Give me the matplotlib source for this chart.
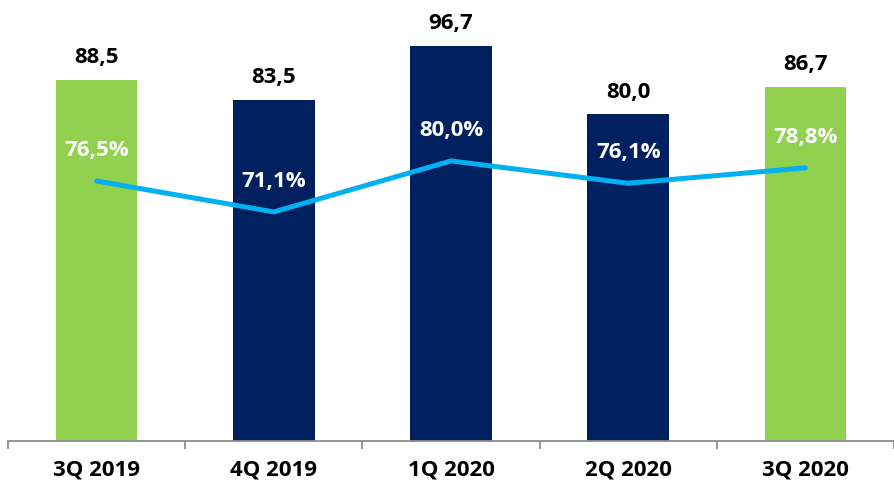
import matplotlib
matplotlib.use("Agg")
import matplotlib.pyplot as plt
import numpy as np

plt.rcParams["font.family"] = ["Open Sans", "DejaVu Sans"]

quarters = ["3Q 2019", "4Q 2019", "1Q 2020", "2Q 2020", "3Q 2020"]
volumes = [88.5, 83.5, 96.7, 80.0, 86.7]
shares = [76.5, 71.1, 80.0, 76.1, 78.8]
bar_colors = ["#92D050", "#002060", "#002060", "#002060", "#92D050"]

GREY = "#8c8c8c"
LINE = "#00B0F0"
FS = 16

fig = plt.figure(figsize=(8.94, 4.88), dpi=100)
ax = fig.add_axes([8 / 894, 47 / 488, 886 / 894, 441 / 488])
x = np.arange(len(quarters))

ax.bar(x, volumes, width=0.46, color=bar_colors, zorder=2)
ax.set_xlim(-0.5, len(quarters) - 0.5)
ax.set_ylim(0, 108)

for xi, v in zip(x, volumes):
    ax.annotate(f"{v:.1f}".replace(".", ","), (xi, v), xytext=(0, 16),
                textcoords="offset points", ha="center", va="center",
                fontsize=FS, fontweight="bold", color="black")

for side in ("top", "right", "left"):
    ax.spines[side].set_visible(False)
ax.spines["bottom"].set_color(GREY)
ax.spines["bottom"].set_linewidth(1.3)
ax.set_yticks([])
ax.set_xticks(x)
ax.set_xticklabels(quarters, fontsize=FS, fontweight="bold")
ax.tick_params(axis="x", which="major", length=0, pad=13)
ax.set_xticks(np.arange(-0.5, len(quarters)), minor=True)
ax.tick_params(axis="x", which="minor", length=6, width=1.3, color=GREY)

ax2 = ax.twinx()
ax2.set_ylim(31.1, 108.1)
ax2.plot(x, shares, color=LINE, lw=3.6, solid_capstyle="round", zorder=3)
for xi, s in zip(x, shares):
    ax2.annotate(f"{s:.1f}%".replace(".", ","), (xi, s), xytext=(0, 22),
                 textcoords="offset points", ha="center", va="center",
                 fontsize=FS, fontweight="bold", color="white")
ax2.set_yticks([])
for side in ("top", "right", "left", "bottom"):
    ax2.spines[side].set_visible(False)

fig.savefig("out.png", dpi=100, facecolor="white")
